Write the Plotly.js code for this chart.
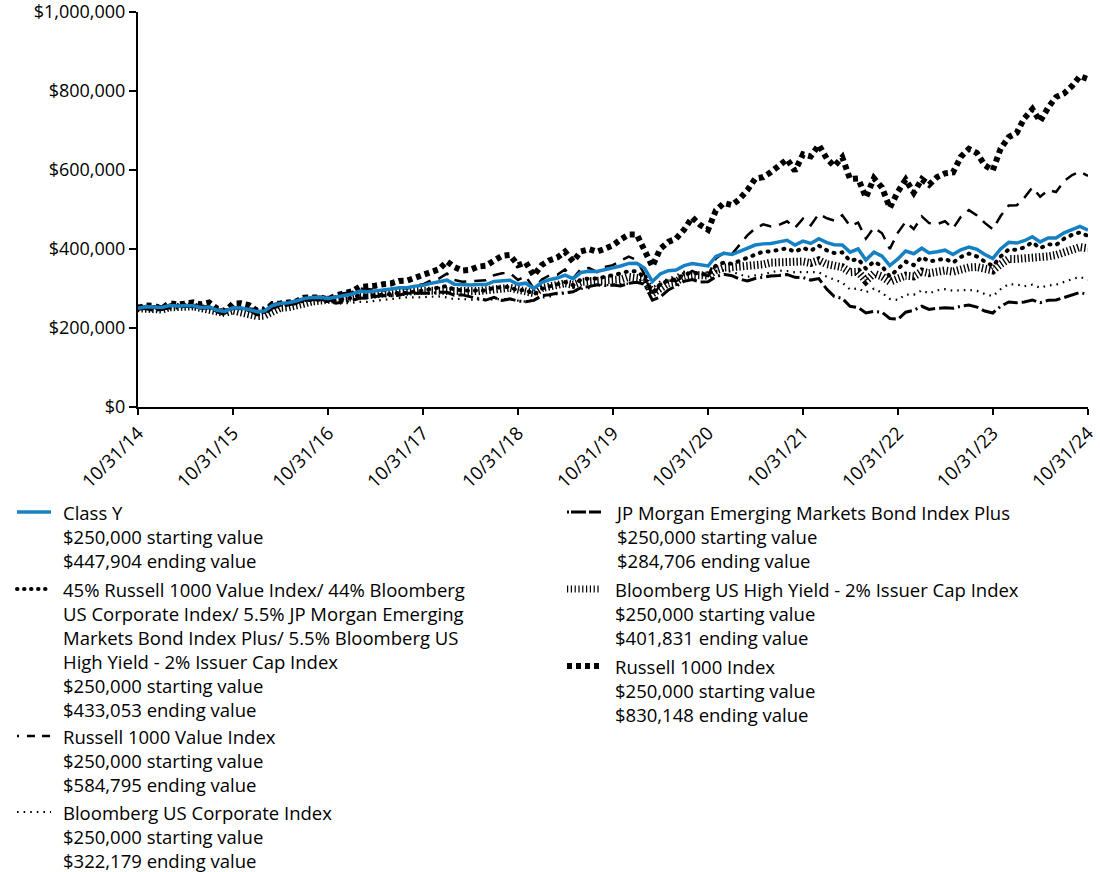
<!DOCTYPE html>
<html>
<head>
<meta charset="utf-8">
<script src="https://cdn.plot.ly/plotly-3.0.1.min.js"></script>
<style>
  html, body { margin: 0; padding: 0; background: #fff; }
  #chart { width: 1100px; height: 872px; }
  .traceblend path.js-line { stroke-linecap: round; }
  .shapelayer path[data-index="1"] { stroke-linecap: round; }
</style>
</head>
<body>
<div id="chart"></div>
<script>
// ---------- DATA (month-end values, USD) ----------
// months: 10/31/2014 .. 10/31/2024
var startYear = 2014, startMonth = 9; // October (0-based)
var monthCount = 121;

var classY = [250000,
 253500, 253000, 252000, 257000, 255500, 256500, 256500, 252000, 253000, 245000, 242000, 251000,
 250500, 247000, 241500, 243000, 257000, 262000, 264000, 268500, 275000, 277500, 278000, 275000,
 278500, 283500, 286000, 293000, 292000, 294000, 295500, 298500, 302000, 302000, 306000, 308000,
 313000, 316000, 321000, 311000, 309500, 309000, 310000, 310000, 318000, 320500, 321000, 310500,
 313500, 300000, 315500, 322000, 326500, 334000, 325000, 340500, 343500, 343000, 348000, 351000,
 357000, 363500, 364000, 352000, 318000, 337000, 345000, 347000, 358000, 363000, 360000, 357000,
 381000, 389000, 386000, 394000, 402000, 410000, 413000, 414000, 418000, 422000, 410000, 420000,
 414000, 426000, 416000, 411000, 410000, 392000, 400000, 372000, 392000, 382000, 358000, 375000,
 395000, 388000, 402000, 390000, 393000, 397000, 386000, 398000, 405000, 399000, 386000, 376000,
 400000, 417000, 415000, 421000, 431000, 418000, 428000, 428000, 441000, 450000, 457000, 447904];

var blend = [250000,
 253000, 253400, 252400, 257000, 255700, 256400, 256500, 251800, 252900, 244500, 241200, 250300,
 249900, 246400, 240800, 241900, 253300, 257900, 259500, 263900, 269600, 271500, 271200, 267900,
 270700, 275100, 276700, 283200, 281700, 283100, 283500, 286200, 289200, 288800, 292700, 294300,
 298600, 301700, 306400, 296600, 295000, 294300, 295100, 294500, 302000, 304100, 304400, 294400,
 297200, 284500, 299200, 305000, 309400, 316200, 308000, 322700, 325200, 325000, 329600, 332700,
 338200, 344000, 343500, 328600, 288400, 311100, 320300, 323600, 335300, 340400, 336000, 333700,
 358100, 365900, 362500, 369700, 377600, 387700, 393600, 394100, 397900, 401800, 392500, 403100,
 395200, 408500, 396400, 389700, 391500, 369900, 374900, 350200, 368200, 356400, 330200, 347900,
 368000, 359300, 380000, 368200, 371000, 375600, 365400, 379900, 388400, 381000, 368300, 357000,
 381000, 399000, 398000, 404000, 417000, 402000, 412000, 410000, 426000, 436000, 442000, 433053];

var russell1000Value = [250000,
 255000, 256500, 246300, 258100, 254500, 256800, 259600, 254400, 255400, 240100, 232900, 250400,
 250900, 245600, 232800, 233000, 249800, 255000, 258800, 261100, 268700, 270900, 270400, 266100,
 281300, 288300, 290300, 300800, 297800, 297200, 294500, 299200, 303100, 299500, 308500, 310700,
 320300, 325100, 337800, 321600, 317400, 318400, 320300, 320900, 333700, 338700, 339400, 321700,
 331000, 299300, 322600, 333000, 335000, 348100, 325800, 349300, 352100, 341900, 354200, 359200,
 370300, 380700, 372300, 336200, 278700, 309900, 320400, 318200, 330900, 344500, 335900, 331500,
 376300, 390600, 387100, 410300, 434500, 451900, 462300, 457200, 460900, 470100, 453600, 476700,
 460000, 489000, 477800, 472100, 485300, 458100, 466800, 426200, 454300, 439800, 400200, 441400,
 469200, 450400, 482400, 465500, 463200, 470200, 451800, 481600, 498500, 485000, 466100, 449800,
 483500, 510100, 510600, 529500, 556000, 532100, 549100, 544200, 572000, 587400, 595600, 584795];

var bbgCorporate = [250000,
 252000, 252500, 260100, 257200, 258000, 256500, 253900, 249300, 251100, 248800, 249800, 250800,
 250100, 248600, 249600, 251100, 257600, 261000, 260700, 267200, 271000, 271800, 271300, 268600,
 261100, 262700, 263500, 266400, 265900, 268800, 272000, 273400, 275600, 277800, 277200, 278300,
 278300, 280000, 277500, 273100, 273900, 271700, 272000, 270400, 273100, 273600, 272800, 269300,
 266900, 270900, 277100, 278800, 286000, 287400, 291700, 298700, 301100, 310400, 308200, 310100,
 311300, 312200, 319400, 323600, 300600, 317700, 324100, 332200, 342500, 339100, 339100, 338100,
 344500, 345900, 342100, 335600, 329600, 333200, 335500, 340900, 345300, 344300, 340900, 341600,
 341900, 341200, 329600, 323000, 314900, 297600, 300300, 290400, 299700, 288900, 273600, 270900,
 285000, 284100, 295500, 287500, 295500, 298200, 294300, 295500, 296400, 294000, 286100, 280700,
 298100, 310900, 310300, 305600, 309600, 301900, 307600, 309500, 316900, 323600, 329400, 322179];

var jpmEmbiPlus = [250000,
 249000, 244500, 246900, 250600, 250900, 254900, 254100, 250300, 251300, 246300, 243300, 250800,
 250300, 247800, 247100, 250800, 258800, 263500, 261900, 269800, 273800, 277600, 278700, 275400,
 263000, 266400, 269900, 275300, 276100, 280000, 282200, 281400, 282800, 288200, 287300, 287900,
 287900, 290500, 290200, 283200, 283800, 278700, 274500, 270700, 277500, 269700, 273700, 268300,
 266400, 269900, 282000, 284300, 288000, 288900, 291800, 302300, 304700, 309300, 307400, 308600,
 306500, 313200, 316000, 311000, 270500, 278600, 296200, 306000, 318200, 322700, 316600, 317200,
 329900, 336200, 332500, 324200, 319000, 325400, 329300, 331900, 332900, 335600, 328200, 327900,
 321300, 325200, 298000, 280000, 275000, 255000, 252000, 238000, 242000, 240000, 224000, 222000,
 240000, 245000, 255000, 247000, 250000, 251000, 250000, 255000, 258000, 253000, 243000, 238000,
 255000, 266000, 264000, 266000, 271000, 264000, 270000, 271000, 277000, 283000, 290000, 284706];

var bbgHighYield = [250000,
 248300, 244800, 246500, 252400, 251100, 253900, 254600, 251100, 248800, 244400, 238000, 244400,
 239100, 233800, 230100, 231500, 241700, 251100, 252600, 254900, 261800, 267300, 269200, 270200,
 268900, 274000, 277800, 282000, 281500, 284600, 287200, 287500, 290600, 290600, 293300, 294400,
 293500, 294400, 296200, 293500, 291800, 293500, 293500, 294700, 297900, 300000, 301800, 297000,
 294300, 288100, 301100, 306200, 308900, 313300, 309500, 316600, 318500, 319800, 320700, 321700,
 322700, 329100, 329100, 324500, 287200, 300100, 313300, 316400, 331300, 334600, 331300, 332900,
 346200, 352800, 353900, 355300, 356000, 359900, 361000, 365700, 367200, 369000, 369000, 368300,
 364600, 371500, 361500, 357900, 354000, 341200, 342200, 319300, 338100, 330300, 317100, 325300,
 332500, 330500, 343100, 338600, 342300, 345700, 342600, 348400, 353300, 354400, 350100, 345900,
 361500, 374900, 374900, 376000, 380500, 377100, 381300, 384700, 392000, 398300, 404700, 401831];

var russell1000 = [250000,
 256800, 256000, 248800, 263300, 259600, 261400, 264800, 259800, 264700, 248800, 242100, 261700,
 262500, 257800, 243900, 243600, 260700, 262000, 266400, 267000, 276800, 277100, 277400, 272100,
 282200, 287600, 293000, 303900, 304200, 307200, 310900, 312800, 319300, 320300, 327000, 334500,
 344900, 348700, 368200, 354600, 345700, 347100, 355400, 357600, 370500, 382700, 385000, 358800,
 366000, 333000, 359700, 371200, 378200, 393300, 368200, 393900, 399400, 393000, 400500, 409300,
 424000, 436700, 436700, 400900, 356000, 400000, 418000, 426000, 449000, 480000, 461200, 448700,
 497600, 516500, 511300, 525600, 548800, 577900, 581900, 594700, 609000, 627200, 597800, 639600,
 634500, 663100, 628600, 609700, 632300, 577300, 578400, 530400, 579200, 555500, 504400, 545200,
 575700, 542300, 576500, 562600, 582300, 591600, 594000, 633200, 653500, 643000, 612100, 599200,
 653800, 683200, 694100, 730900, 754300, 723400, 758100, 784600, 794000, 813100, 837500, 830148];

var xTickDates = ['2014-10-31','2015-10-31','2016-10-31','2017-10-31','2018-10-31','2019-10-31',
                  '2020-10-31','2021-10-31','2022-10-31','2023-10-31','2024-10-31'];
var xTickLabels = ['10/31/14','10/31/15','10/31/16','10/31/17','10/31/18','10/31/19',
                   '10/31/20','10/31/21','10/31/22','10/31/23','10/31/24'];
var yTickVals = [0, 200000, 400000, 600000, 800000, 1000000];
var yTickLabels = ['$0', '$200,000', '$400,000', '$600,000', '$800,000', '$1,000,000'];

var legendEntries = [
  {col: 0, top: 512, style: 'classY', lines: ['Class Y', '$250,000 starting value', '$447,904 ending value']},
  {col: 0, top: 589, style: 'blend', lines: ['45% Russell 1000 Value Index/ 44% Bloomberg', 'US Corporate Index/ 5.5% JP Morgan Emerging', 'Markets Bond Index Plus/ 5.5% Bloomberg US', 'High Yield - 2% Issuer Cap Index', '$250,000 starting value', '$433,053 ending value']},
  {col: 0, top: 736, style: 'r1000v', lines: ['Russell 1000 Value Index', '$250,000 starting value', '$584,795 ending value']},
  {col: 0, top: 812, style: 'corp', lines: ['Bloomberg US Corporate Index', '$250,000 starting value', '$322,179 ending value']},
  {col: 1, top: 512, style: 'embi', lines: ['JP Morgan Emerging Markets Bond Index Plus', '$250,000 starting value', '$284,706 ending value']},
  {col: 1, top: 589, style: 'hy', lines: ['Bloomberg US High Yield - 2% Issuer Cap Index', '$250,000 starting value', '$401,831 ending value']},
  {col: 1, top: 666, style: 'r1000', lines: ['Russell 1000 Index', '$250,000 starting value', '$830,148 ending value']}
];

// ---------- STYLES ----------
var styles = {
  classY: {color: '#1580c4', width: 3.5, dash: 'solid'},
  blend:  {color: '#000000', width: 4, dash: '1px,7px', sample: '0.5px,6.5px'},
  r1000v: {color: '#000000', width: 2.5, dash: '12px,8px', sample: '2px,8px,8px,7px,8px,20px'},
  corp:   {color: '#000000', width: 2.2, dash: '1.6px,5px'},
  embi:   {color: '#000000', width: 3, dash: '15px,4px,15px,4px,2px,4px', sample: '2px,2px,15px,3px,15px,20px'},
  hy:     {color: '#000000', width: 8, dash: '1.4px,2.2px', sampleWidth: 7, sample: '1.2px,2.6px'},
  r1000:  {color: '#000000', width: 6, dash: '5px,4px'}
};

// month-end dates
var dates = [];
for (var i = 0; i < monthCount; i++) {
  var d = new Date(Date.UTC(startYear, startMonth + i + 1, 0));
  dates.push(d.toISOString().slice(0, 10));
}

function mk(name, y, key) {
  var s = styles[key];
  return {x: dates, y: y, name: name, type: 'scatter', mode: 'lines', uid: key,
          line: {color: s.color, width: s.width, dash: s.dash}, hoverinfo: 'skip'};
}

var traces = [
  mk('Russell 1000 Index', russell1000, 'r1000'),
  mk('Russell 1000 Value Index', russell1000Value, 'r1000v'),
  mk('JP Morgan Emerging Markets Bond Index Plus', jpmEmbiPlus, 'embi'),
  mk('Bloomberg US Corporate Index', bbgCorporate, 'corp'),
  mk('Bloomberg US High Yield - 2% Issuer Cap Index', bbgHighYield, 'hy'),
  mk('Blend', blend, 'blend'),
  mk('Class Y', classY, 'classY')
];

// ---------- LAYOUT ----------
var W = 1100, H = 872, L = 138, R = 12, T = 12, B = 465;
var pw = W - L - R, ph = H - T - B;
function px(x) { return (x - L) / pw; }
function py(y) { return (H - B - y) / ph; }

var FONT = '"Open Sans", "Noto Sans", sans-serif';
var FS = 18.5, TFS = 18;
var LINE = FS * 1.3; // plotly annotation line spacing
var annotations = [], shapes = [];
var colText = [61, 613], colSample = [[17, 51], [567, 601]];
legendEntries.forEach(function (e) {
  var n = e.lines.length;
  annotations.push({xref: 'paper', yref: 'paper', x: px(colText[e.col]),
    y: py(e.top + (n - 1) * LINE / 2),
    xanchor: 'left', yanchor: 'middle', text: e.lines.join('<br>'), showarrow: false, align: 'left',
    font: {family: FONT, size: FS, color: '#000'}});
  var s = styles[e.style];
  shapes.push({type: 'line', xref: 'paper', yref: 'paper',
    x0: px(colSample[e.col][0]), x1: px(colSample[e.col][1]),
    y0: py(e.top), y1: py(e.top),
    line: {color: s.color, width: s.sampleWidth || s.width, dash: s.sample || s.dash}});
});

var layout = {
  width: W, height: H,
  margin: {l: L, r: R, t: T, b: B, pad: 0},
  paper_bgcolor: '#fff', plot_bgcolor: '#fff',
  showlegend: false,
  font: {family: FONT, size: FS, color: '#000'},
  xaxis: {
    type: 'date', range: ['2014-10-31', '2024-10-31'],
    tickmode: 'array', tickvals: xTickDates, ticktext: xTickLabels,
    tickangle: -45, ticks: 'outside', ticklen: 6, tickwidth: 2, tickcolor: '#000',
    showline: true, linecolor: '#000', linewidth: 2, showgrid: false, zeroline: false,
    ticklabeloverflow: 'allow',
    tickfont: {family: FONT, size: FS, color: '#000'}, fixedrange: true
  },
  yaxis: {
    range: [0, 1000000], tickmode: 'array', tickvals: yTickVals, ticktext: yTickLabels,
    ticks: 'outside', ticklen: 7, tickwidth: 2, tickcolor: '#000',
    showline: true, linecolor: '#000', linewidth: 2, showgrid: false, zeroline: false,
    ticklabeloverflow: 'allow',
    tickfont: {family: FONT, size: TFS, color: '#000'}, fixedrange: true
  },
  annotations: annotations,
  shapes: shapes
};

Plotly.newPlot('chart', traces, layout, {displayModeBar: false, staticPlot: true});
</script>
</body>
</html>
